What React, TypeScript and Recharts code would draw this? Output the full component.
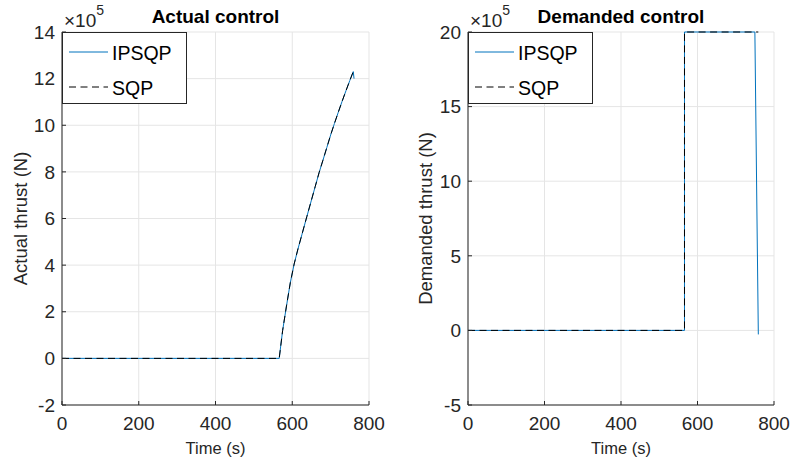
import React from 'react';
import { LineChart, Line, XAxis, YAxis, CartesianGrid, Legend, Label } from 'recharts';

const FONT = '"Liberation Sans", Arial, Helvetica, sans-serif';
const AXIS_COLOR = '#262626';
const GRID_COLOR = '#e5e5e5';
const IPSQP_COLOR = '#0072BD';
const SQP_COLOR = '#000000';

const TIME_TICKS = [0, 200, 400, 600, 800];
const ACTUAL_TICKS = [-2, 0, 2, 4, 6, 8, 10, 12, 14];
const DEMANDED_TICKS = [-5, 0, 5, 10, 15, 20];

// thrust values are in units of 1e5 N (axis shows x10^5)
const actualIpsqpTime = [0, 566, 575, 585, 595, 605, 615, 625, 638, 650, 660, 670, 680, 690, 700, 710, 720, 730, 740, 750, 759, 761];
const actualIpsqp = [0, 0, 1.2, 2.25, 3.25, 4.05, 4.7, 5.3, 6.08, 6.79, 7.38, 7.97, 8.5, 9.04, 9.58, 10.08, 10.56, 11.03, 11.48, 11.92, 12.3, 12.0];
const actualSqpTime = [0, 566, 575, 585, 595, 605, 615, 625, 638, 650, 660, 670, 680, 690, 700, 710, 720, 730, 740, 750, 759];
const actualSqp = [0, 0, 1.2, 2.25, 3.25, 4.05, 4.7, 5.3, 6.08, 6.79, 7.38, 7.97, 8.5, 9.04, 9.58, 10.08, 10.56, 11.03, 11.48, 11.92, 12.3];

const demandIpsqpTime = [0, 566, 566, 750, 759];
const demandIpsqp = [0, 0, 20, 20, -0.27];
const demandSqpTime = [0, 566, 566, 759];
const demandSqp = [0, 0, 20, 20];

const toPoints = (ts: number[], vs: number[]) => ts.map((t, i) => ({ t, v: vs[i] }));

function LegendBox() {
  return (
    <svg width={125} height={72} style={{ display: 'block' }}>
      <rect x={0.5} y={0.5} width={124} height={71} fill="#fff" stroke={AXIS_COLOR} />
      <line x1={7} x2={46} y1={20} y2={20} stroke={IPSQP_COLOR} strokeWidth={1} />
      <text x={50} y={21} dominantBaseline="central" fontSize={19.5} fontFamily={FONT} fill="#000">IPSQP</text>
      <line x1={7} x2={46} y1={55} y2={55} stroke={SQP_COLOR} strokeWidth={1} strokeDasharray="7 4.5" />
      <text x={50} y={56} dominantBaseline="central" fontSize={19.5} fontFamily={FONT} fill="#000">SQP</text>
    </svg>
  );
}

interface SubplotProps {
  left: number;
  width: number;
  yAxisWidth: number;
  rightMargin: number;
  title: string;
  yLabel: string;
  yLabelX: number;
  yDomain: [number, number];
  yTicks: number[];
  ipsqp: { t: number; v: number }[];
  sqp: { t: number; v: number }[];
}

function Subplot(p: SubplotProps) {
  const plotLeft = p.yAxisWidth;
  const plotWidth = p.width - p.yAxisWidth - p.rightMargin;
  const tickStyle = { fontSize: 19, fontFamily: FONT, fill: AXIS_COLOR };

  return (
    <div style={{ position: 'absolute', left: p.left, top: 0, width: p.width, height: 464 }}>
      <LineChart width={p.width} height={464} margin={{ top: 32, right: p.rightMargin, bottom: 0, left: 0 }}>
        <CartesianGrid stroke={GRID_COLOR} />
        <XAxis
          dataKey="t"
          type="number"
          domain={[0, 800]}
          ticks={TIME_TICKS}
          height={59}
          stroke={AXIS_COLOR}
          tickSize={-4}
          tickMargin={16}
          tick={tickStyle}
          allowDuplicatedCategory={false}
        >
          <Label
            content={(props: any) => {
              const vb = props.viewBox;
              return (
                <text
                  x={vb.x + vb.width / 2}
                  y={vb.y + 49}
                  textAnchor="middle"
                  fontSize={16.5}
                  fontFamily={FONT}
                  fill={AXIS_COLOR}
                >
                  Time (s)
                </text>
              );
            }}
          />
        </XAxis>
        <XAxis
          xAxisId="top"
          orientation="top"
          type="number"
          domain={[0, 800]}
          ticks={TIME_TICKS}
          height={0}
          stroke={AXIS_COLOR}
          tickSize={-4}
          tick={false}
        />
        <YAxis
          type="number"
          domain={p.yDomain}
          ticks={p.yTicks}
          width={p.yAxisWidth}
          stroke={AXIS_COLOR}
          tickSize={-4}
          tickMargin={11}
          tick={tickStyle}
        >
          <Label
            content={(props: any) => {
              const vb = props.viewBox;
              const cy = vb.y + vb.height / 2;
              return (
                <text
                  x={p.yLabelX}
                  y={cy}
                  transform={`rotate(-90 ${p.yLabelX} ${cy})`}
                  textAnchor="middle"
                  dominantBaseline="central"
                  fontSize={18.5}
                  fontFamily={FONT}
                  fill={AXIS_COLOR}
                >
                  {p.yLabel}
                </text>
              );
            }}
          />
        </YAxis>
        <YAxis
          yAxisId="right"
          orientation="right"
          type="number"
          domain={p.yDomain}
          ticks={p.yTicks}
          width={0}
          stroke={AXIS_COLOR}
          tickSize={-4}
          tick={false}
        />
        <Line
          data={p.ipsqp}
          dataKey="v"
          name="IPSQP"
          type="linear"
          stroke={IPSQP_COLOR}
          strokeWidth={1}
          dot={false}
          isAnimationActive={false}
        />
        <Line
          data={p.sqp}
          dataKey="v"
          name="SQP"
          type="linear"
          stroke={SQP_COLOR}
          strokeWidth={1}
          strokeDasharray="7 4.5"
          dot={false}
          isAnimationActive={false}
        />
        <Legend
          layout="horizontal"
          verticalAlign="middle"
          align="center"
          content={() => <LegendBox />}
          wrapperStyle={{ left: plotLeft - 0.5, top: 32, width: 125, height: 72 }}
        />
      </LineChart>
      <svg
        width={p.width}
        height={32}
        style={{ position: 'absolute', left: 0, top: 0, pointerEvents: 'none' }}
      >
        <text
          x={plotLeft + plotWidth / 2}
          y={23}
          textAnchor="middle"
          fontSize={19}
          fontWeight="bold"
          fontFamily={FONT}
          fill="#000"
        >
          {p.title}
        </text>
        <text x={plotLeft + 2} y={27} fontFamily={FONT} fill={AXIS_COLOR}>
          <tspan fontSize={19}>×10</tspan>
          <tspan fontSize={14} dy={-12}>5</tspan>
        </text>
      </svg>
    </div>
  );
}

export default function App() {
  return (
    <div style={{ position: 'absolute', left: 0, top: 0, width: 791, height: 464, background: '#fff' }}>
      <Subplot
        left={0}
        width={400}
        yAxisWidth={62}
        rightMargin={31}
        title="Actual control"
        yLabel="Actual thrust (N)"
        yLabelX={20}
        yDomain={[-2, 14]}
        yTicks={ACTUAL_TICKS}
        ipsqp={toPoints(actualIpsqpTime, actualIpsqp)}
        sqp={toPoints(actualSqpTime, actualSqp)}
      />
      <Subplot
        left={400}
        width={391}
        yAxisWidth={68}
        rightMargin={17}
        title="Demanded control"
        yLabel="Demanded thrust (N)"
        yLabelX={25}
        yDomain={[-5, 20]}
        yTicks={DEMANDED_TICKS}
        ipsqp={toPoints(demandIpsqpTime, demandIpsqp)}
        sqp={toPoints(demandSqpTime, demandSqp)}
      />
    </div>
  );
}
